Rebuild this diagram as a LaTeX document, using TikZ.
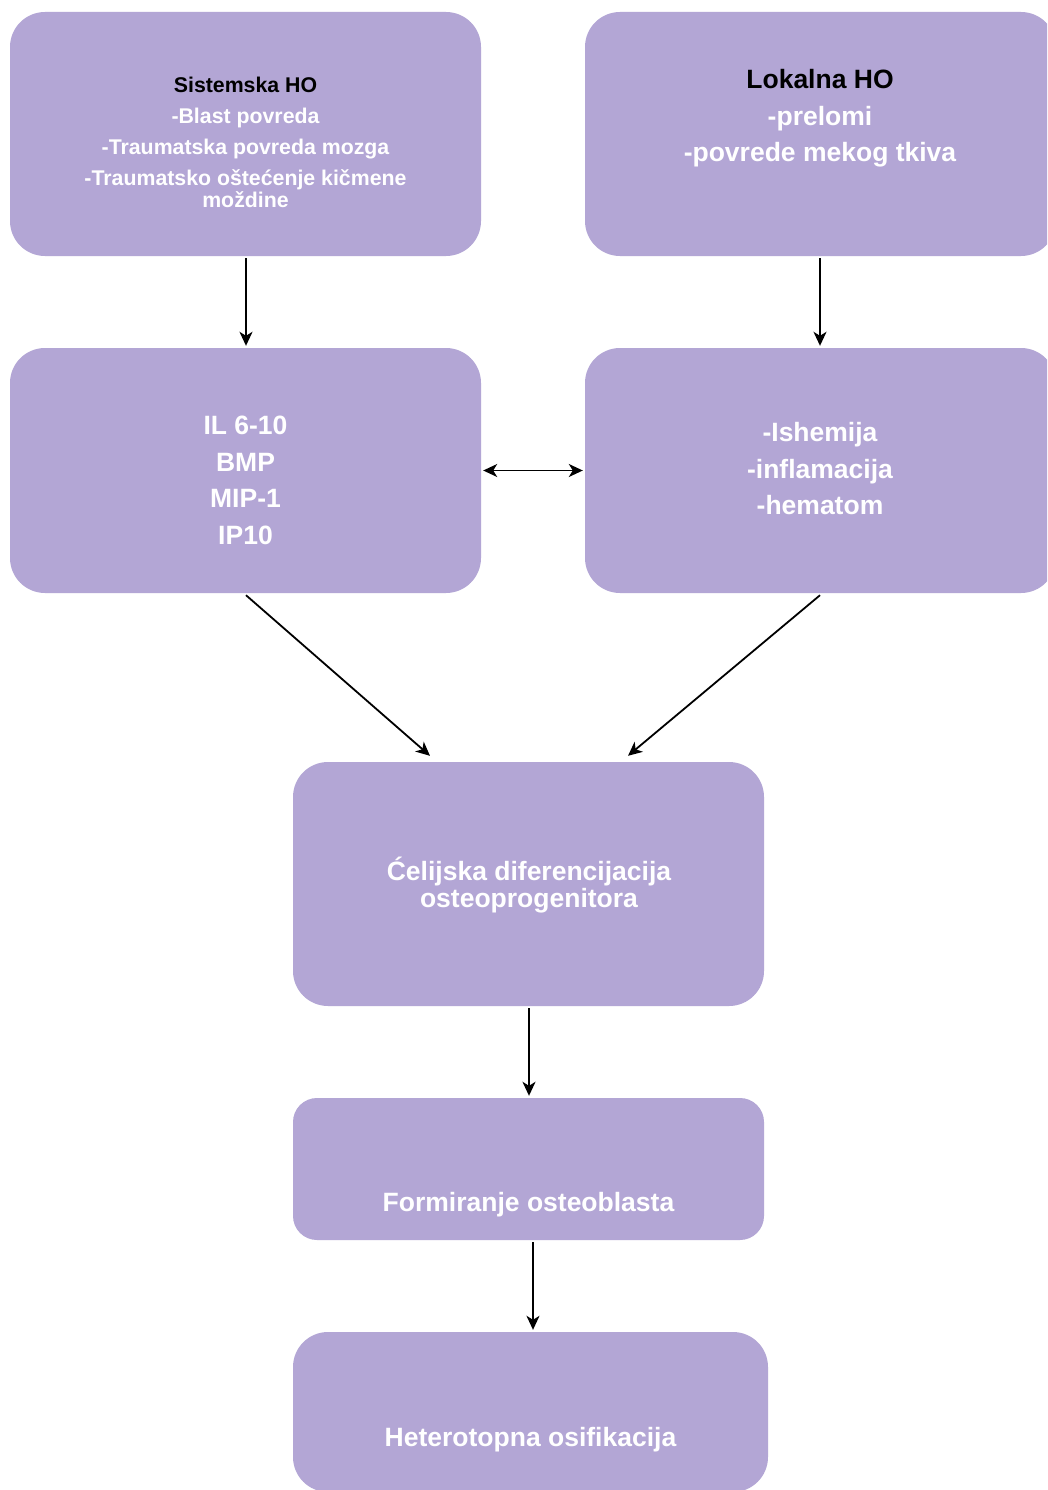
\documentclass[tikz,border=0pt]{standalone}
\usepackage{fontspec}
\setmainfont{Liberation Sans}
\usetikzlibrary{arrows.meta}
\definecolor{boxfill}{HTML}{B3A6D5}
\tikzset{
  box/.style={draw=none, fill=boxfill, rounded corners=35pt, inner sep=0pt},
  wt/.style={text=white, font=\bfseries\fontsize{#1}{#1}\selectfont, anchor=base, inner sep=0pt},
  bt/.style={text=black, font=\bfseries\fontsize{#1}{#1}\selectfont, anchor=base, inner sep=0pt},
  conn/.style={line width=1.8pt, -{Stealth[length=14pt,width=13pt,inset=4pt]}},
  dconn/.style={line width=1.8pt, {Stealth[length=14pt,width=13pt,inset=4pt]}-{Stealth[length=14pt,width=13pt,inset=4pt]}}
}
\begin{document}
\begin{tikzpicture}[x=1pt,y=-1pt]
\useasboundingbox (0,0) rectangle (1047,1490);
\clip (0,0) rectangle (1047,1490);
\fill[white] (0,0) rectangle (1047,1490);
% boxes
\node[box, minimum width=471pt, minimum height=244pt] (b1) at (245.5,134) {};
\node[box, minimum width=471pt, minimum height=244pt] (b2) at (820.5,134) {};
\node[box, minimum width=471pt, minimum height=245pt] (b3) at (245.5,470.5) {};
\node[box, minimum width=471pt, minimum height=245pt] (b4) at (820.5,470.5) {};
\node[box, minimum width=471pt, minimum height=244pt] (b5) at (528.5,884) {};
\node[box, minimum width=471pt, minimum height=142pt, rounded corners=24pt] (b6) at (528.5,1169) {};
\node[box, minimum width=475pt, minimum height=160pt] (b7) at (530.5,1412) {};
% texts box 1
\node[bt=21.3] (t1a) at (245.5,92.7) {Sistemska HO};
\node[wt=21.3] (t1b) at (245.5,123.7) {-Blast povreda};
\node[wt=21.3] (t1c) at (245.5,154.7) {-Traumatska povreda mozga};
\node[wt=21.3] (t1d) at (245.5,185.7) {-Traumatsko oštećenje kičmene};
\node[wt=21.3] (t1e) at (245.5,207.7) {moždine};
% box 2
\node[bt=26.5] (t2a) at (820,88.5) {Lokalna HO};
\node[wt=26.5] (t2b) at (820,125.5) {-prelomi};
\node[wt=26.5] (t2c) at (820,161.5) {-povrede mekog tkiva};
% box 3
\node[wt=26.5] (t3a) at (245.5,434.5) {IL 6-10};
\node[wt=26.5] (t3b) at (245.5,471.5) {BMP};
\node[wt=26.5] (t3c) at (245.5,507.5) {MIP-1};
\node[wt=26.5] (t3d) at (245.5,544.5) {IP10};
% box 4
\node[wt=26.5] (t4a) at (820,441.5) {-Ishemija};
\node[wt=26.5] (t4b) at (820,478.5) {-inflamacija};
\node[wt=26.5] (t4c) at (820,514.5) {-hematom};
% box 5
\node[wt=26.5] (t5a) at (529,880.5) {Ćelijska diferencijacija};
\node[wt=26.5] (t5b) at (529,907.5) {osteoprogenitora};
% box 6
\node[wt=26.5] (t6a) at (528.5,1211.5) {Formiranje osteoblasta};
% box 7
\node[wt=26.5] (t7a) at (530.5,1446.5) {Heterotopna osifikacija};
% connectors
\draw[conn] ([xshift=0.5pt,yshift=-2pt]b1.south) -- ([xshift=0.5pt,yshift=2pt]b3.north);
\draw[conn] ([xshift=-0.5pt,yshift=-2pt]b2.south) -- ([xshift=-0.5pt,yshift=2pt]b4.north);
\draw[dconn] ([xshift=2pt]b3.east) -- ([xshift=-2pt]b4.west);
\draw[conn] ([xshift=0.5pt,yshift=-2pt]b3.south) -- ([xshift=-98.5pt,yshift=6pt]b5.north);
\draw[conn] ([xshift=-0.5pt,yshift=-2pt]b4.south) -- ([xshift=99.5pt,yshift=6pt]b5.north);
\draw[conn] ([xshift=0.5pt,yshift=-2pt]b5.south) -- ([xshift=0.5pt,yshift=2pt]b6.north);
\draw[conn] ([xshift=4.5pt,yshift=-2pt]b6.south) -- ([xshift=2.5pt,yshift=2pt]b7.north);
\end{tikzpicture}
\end{document}
